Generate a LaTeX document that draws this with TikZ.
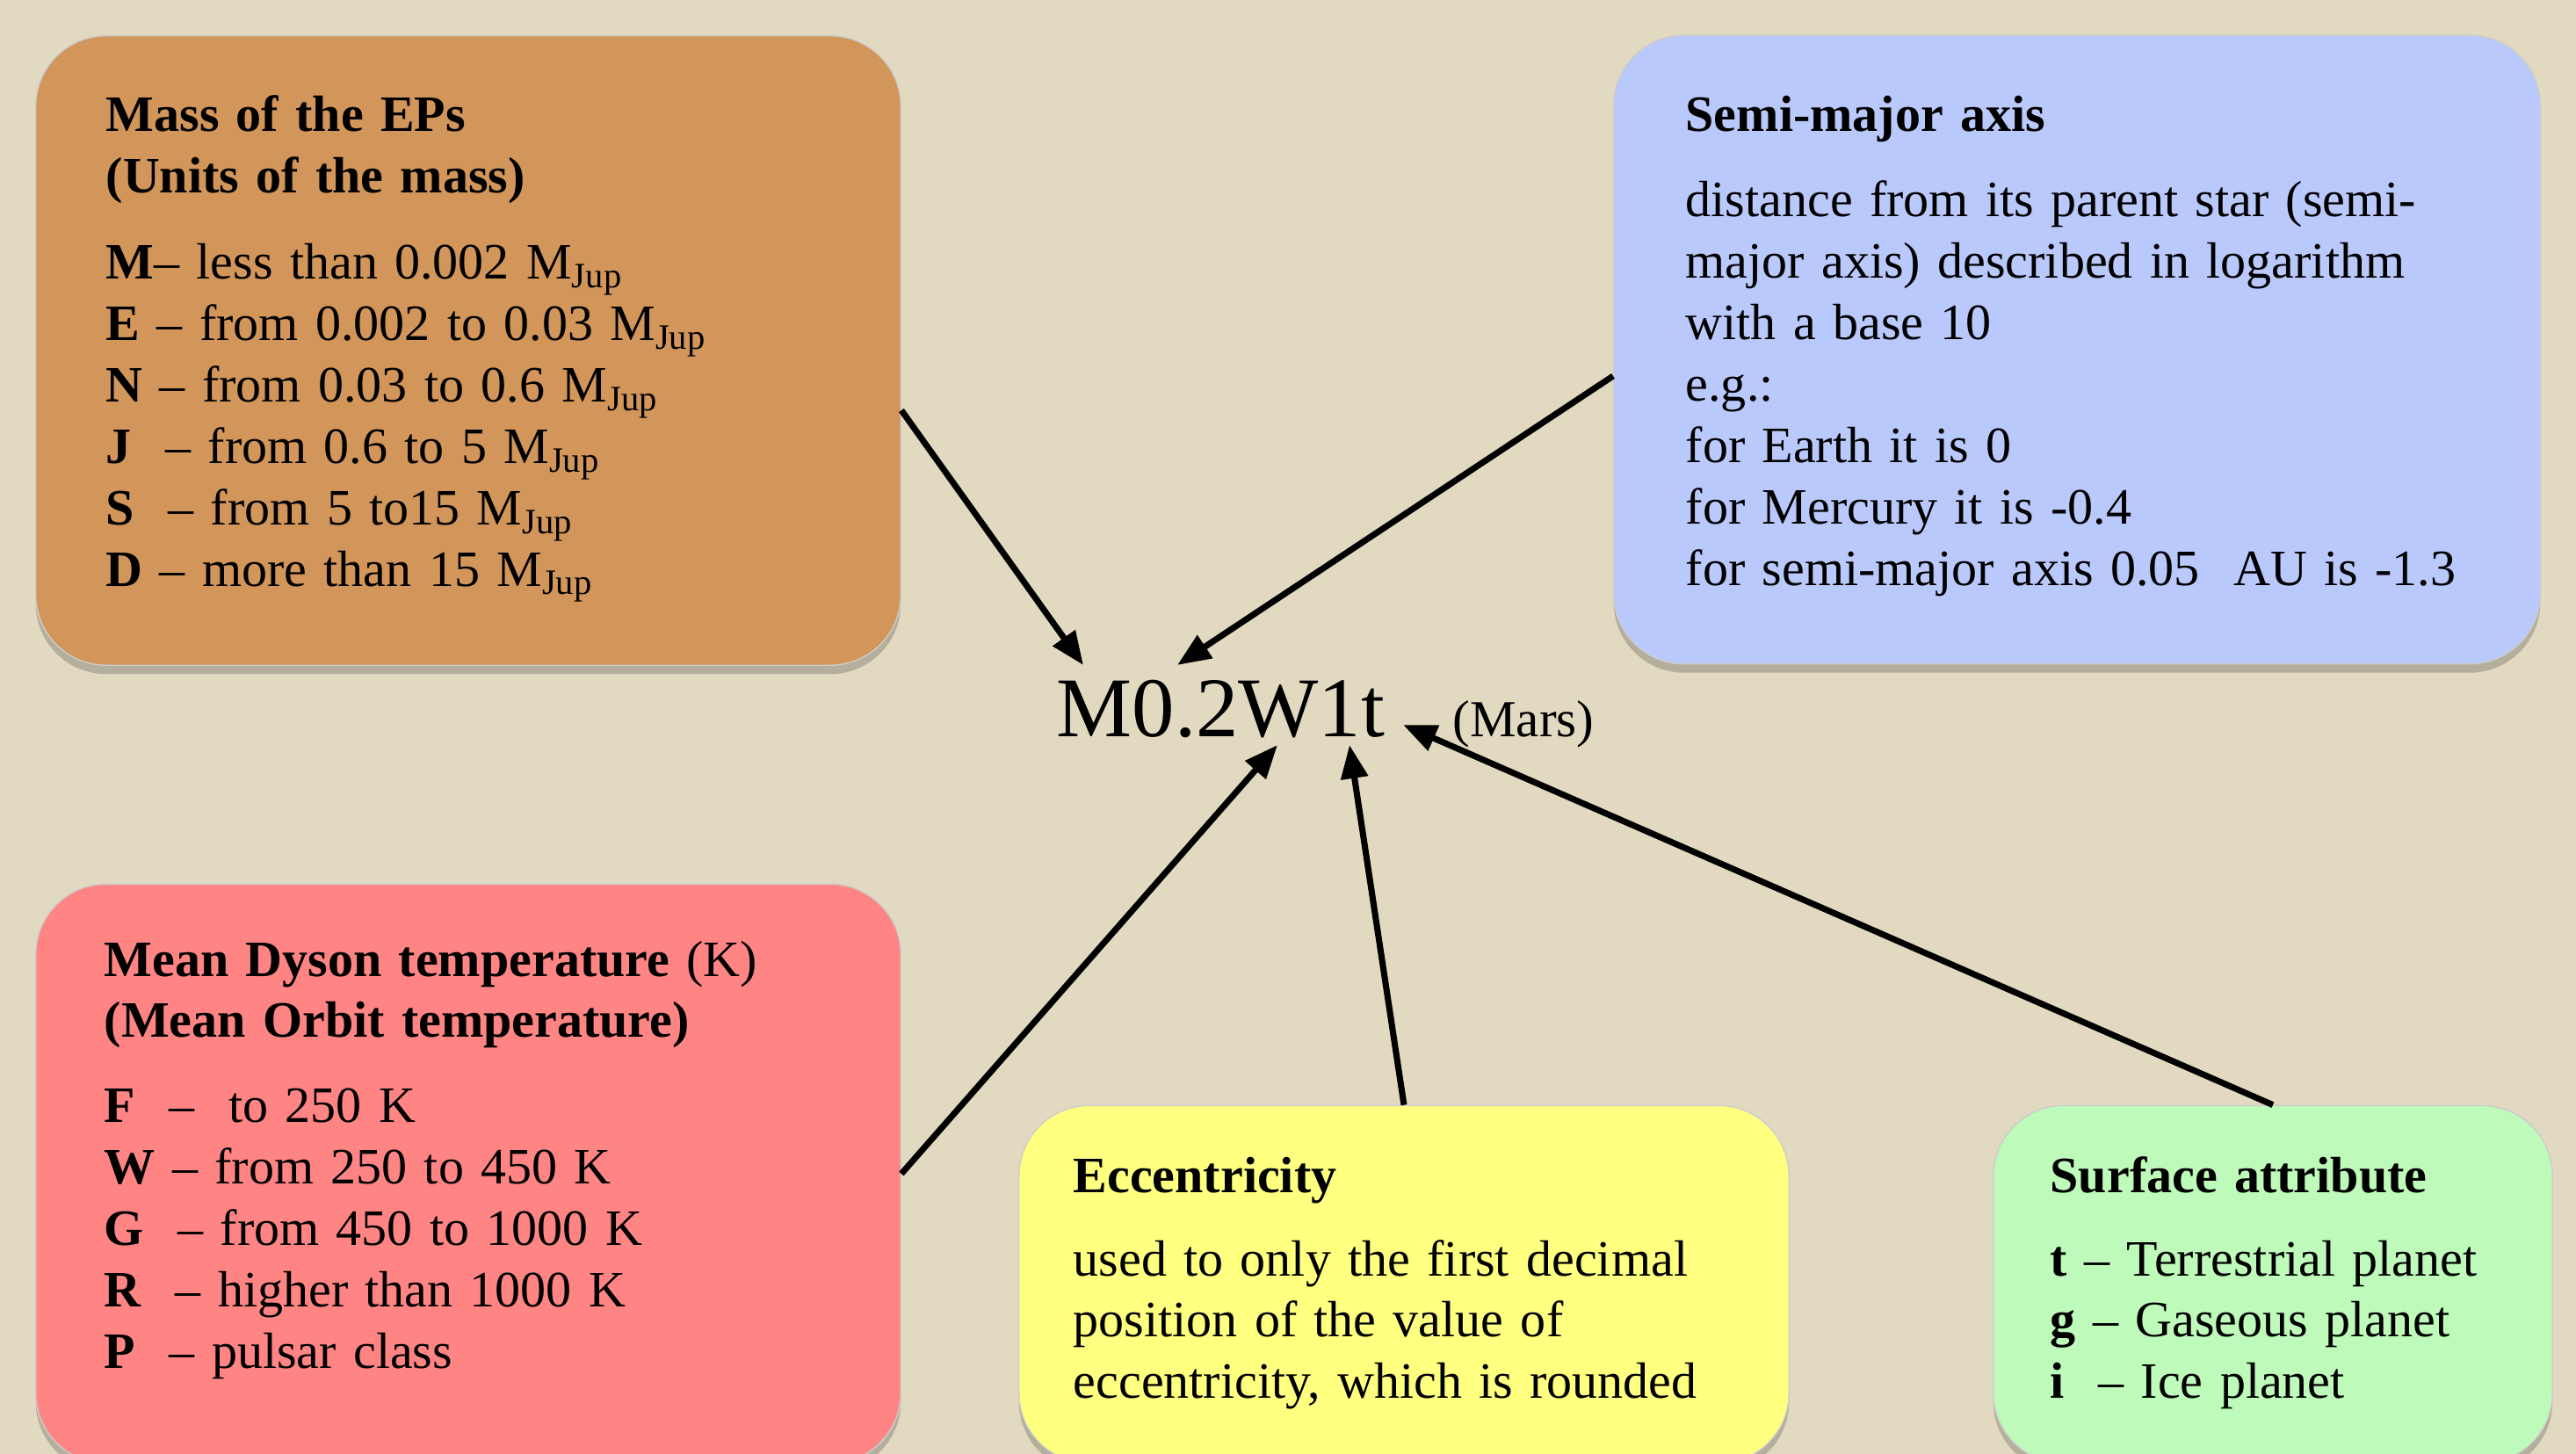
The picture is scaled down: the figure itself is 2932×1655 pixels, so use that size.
\documentclass[tikz,border=0pt]{standalone}
\usepackage{fontspec}
\setmainfont{Liberation Serif}
\usetikzlibrary{arrows.meta}
\usetikzlibrary{shadows}
\usetikzlibrary{positioning}

\definecolor{paper}{RGB}{226,217,193}
\definecolor{massfill}{RGB}{211,150,90}
\definecolor{axisfill}{RGB}{186,201,251}
\definecolor{tempfill}{RGB}{255,132,132}
\definecolor{eccfill}{RGB}{255,255,128}
\definecolor{surffill}{RGB}{190,250,186}

\begin{document}
\begin{tikzpicture}[x=0.01cm,y=0.01cm,
  card/.style={rectangle,rounded corners=0.8cm,draw=black!20,line width=0.4pt,
    drop shadow={shadow xshift=0pt,shadow yshift=-0.1cm,opacity=0.3,fill=black!70}},
  cardtext/.style={anchor=base west,inner sep=0pt,align=left,text width=#1,
    font=\fontsize{16.5}{19.9}\selectfont},
  link/.style={-{Triangle[length=0.38cm,width=0.3cm]},line width=2pt}]
		\useasboundingbox (0,0) rectangle (2932,-1655);
		\fill[paper] (0,0) rectangle (2932,-1655);
		% boxes
		\node[card,fill=massfill,minimum width=9.84cm,minimum height=7.16cm] (mass) at (533,-399) {};
		\node[card,fill=axisfill,minimum width=10.54cm,minimum height=7.15cm] (axis) at (2364,-398) {};
		\node[card,fill=tempfill,minimum width=9.84cm,minimum height=6.59cm] (temp) at (533,-1336) {};
		\node[card,fill=eccfill,minimum width=8.76cm,minimum height=4.07cm] (ecc) at (1598,-1462) {};
		\node[card,fill=surffill,minimum width=6.36cm,minimum height=4.07cm] (surf) at (2587,-1462) {};
		% texts
		\node[cardtext=9cm] (massText) at (120,-150)
			{\textbf{Mass of the EPs}\\ \textbf{(Units of the mass)}\\[0.28cm]
			\textbf{M}– less than 0.002 M\textsubscript{Jup}\\
			\textbf{E} – from 0.002 to 0.03 M\textsubscript{Jup}\\
			\textbf{N} – from 0.03 to 0.6 M\textsubscript{Jup}\\
			\textbf{J}\ \ – from 0.6 to 5 M\textsubscript{Jup}\\
			\textbf{S}\ \ – from 5 to15 M\textsubscript{Jup}\\
			\textbf{D} – more than 15 M\textsubscript{Jup}};
		\node[cardtext=9.7cm] (axisText) at (1918,-150)
			{\textbf{Semi-major axis}\\[0.27cm]
			distance from its parent star (semi-\\
			major axis) described in logarithm\\
			with a base 10\\
			e.g.:\\
			for Earth it is 0\\
			for Mercury it is -0.4\\
			for semi-major axis 0.05\ \ AU is -1.3};
		\node[cardtext=9cm] (tempText) at (118,-1111)
			{\textbf{Mean Dyson temperature} (K)\\ \textbf{(Mean Orbit temperature)}\\[0.27cm]
			\textbf{F}\ \ –\ \ to 250 K\\
			\textbf{W} – from 250 to 450 K\\
			\textbf{G}\ \ – from 450 to 1000 K\\
			\textbf{R}\ \ – higher than 1000 K\\
			\textbf{P}\ \ – pulsar class};
		\node[cardtext=8cm] (eccText) at (1221,-1357)
			{\textbf{Eccentricity}\\[0.25cm]
			used to only the first decimal\\
			position of the value of\\
			eccentricity, which is rounded};
		\node[cardtext=5.8cm] (surfText) at (2333,-1357)
			{\textbf{Surface attribute}\\[0.25cm]
			\textbf{t} – Terrestrial planet\\
			\textbf{g} – Gaseous planet\\
			\textbf{i}\ \ – Ice planet};
		% code of Mars
		\node[anchor=base west,inner sep=0pt,font=\fontsize{27.5}{33}\selectfont] (code) at (1202,-838) {M0.2W1t};
		\node[anchor=base west,inner sep=0pt,font=\fontsize{16.8}{20}\selectfont] (mars) at (1653,-838) {(Mars)};
		\coordinate (tipMass) at (1233,-757);
		\coordinate (tipAxis) at (1340,-757);
		\coordinate (tipTemp) at (1454,-848);
		\coordinate (tipEcc) at (1536,-848);
		\coordinate (tipSurf) at (1597,-825);
		\draw[link] ([yshift=-0.68cm]mass.east) -- (tipMass);
		\draw[link] ([yshift=-0.3cm]axis.west) -- (tipAxis);
		\draw[link] (temp.east) -- (tipTemp);
		\draw[link] (ecc.north) -- (tipEcc);
		\draw[link] (surf.north) -- (tipSurf);
\end{tikzpicture}
\end{document}
